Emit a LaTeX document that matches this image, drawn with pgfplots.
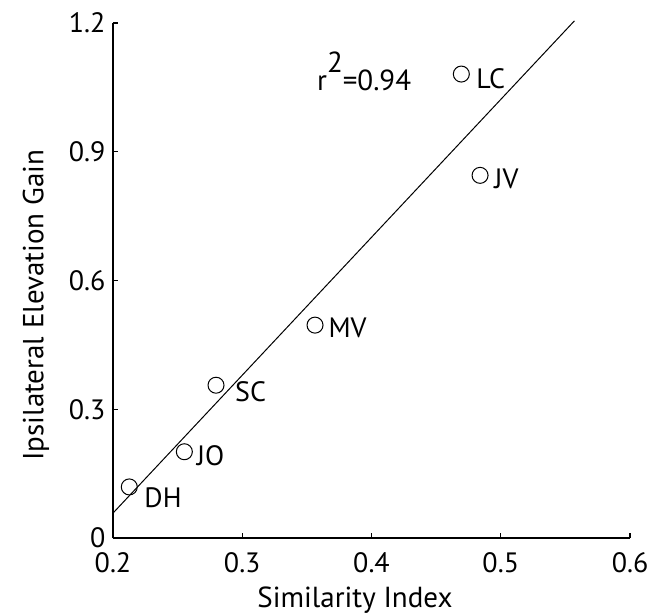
\documentclass[border=0pt]{standalone}
\usepackage{pgfplots}
\pgfplotsset{compat=1.18}
\usepackage{fontspec}
\setmainfont{PT Sans}
\usetikzlibrary{calc}
\begin{document}
\begin{tikzpicture}
\begin{axis}[
  scale only axis, width=517pt, height=515pt,
  xmin=0.2, xmax=0.6, ymin=0, ymax=1.2,
  axis x line*=bottom, axis y line*=left,
  axis line style={line width=1.1pt},
  xtick={0.2,0.3,0.4,0.5,0.6}, xticklabels={0.2,0.3,0.4,0.5,0.6},
  ytick={0,0.3,0.6,0.9,1.2}, yticklabels={0,0.3,0.6,0.9,1.2},
  tick align=inside, major tick length=5pt,
  major tick style={line width=1.1pt, black},
  ticklabel style={font=\fontsize{28}{30}\selectfont},
  xticklabel style={yshift=-11pt},
  yticklabel style={xshift=-4pt},
  label style={font=\fontsize{29}{32}\selectfont},
  xlabel={Similarity Index}, ylabel={Ipsilateral Elevation Gain},
  xlabel style={at={(axis description cs:0.468,-0.12)}, anchor=center},
  ylabel style={at={(axis description cs:-0.149,0.452)}, anchor=center},
  clip=false,
]
\addplot[black, line width=1pt, no marks] coordinates {(0.2,0.058) (0.557,1.205)};
\addplot[only marks, mark=o, mark size=8pt, mark options={line width=1pt, black}] coordinates {
  (0.4695,1.081) (0.484,0.845) (0.3563,0.496) (0.2797,0.356) (0.2552,0.201) (0.2126,0.119)};
\begin{scope}[every node/.style={font=\fontsize{28}{30}\selectfont, inner sep=0pt, anchor=west}]
\node at (axis cs:0.481,1.071) {LC};
\node at (axis cs:0.495,0.838) {JV};
\node at (axis cs:0.3666,0.489) {MV};
\node at (axis cs:0.2944,0.341) {SC};
\node at (axis cs:0.2648,0.191) {JO};
\node at (axis cs:0.2242,0.094) {DH};
\node[anchor=base west, font=\fontsize{29}{30}\selectfont] at (axis cs:0.3578,1.043) {r\raisebox{0.6em}{2}=0.94};
\end{scope}
\end{axis}
\pgfresetboundingbox
\path ($(current axis.south west)+(-113pt,-77pt)$) rectangle ($(current axis.south west)+(534pt,538pt)$);
\end{tikzpicture}
\end{document}
